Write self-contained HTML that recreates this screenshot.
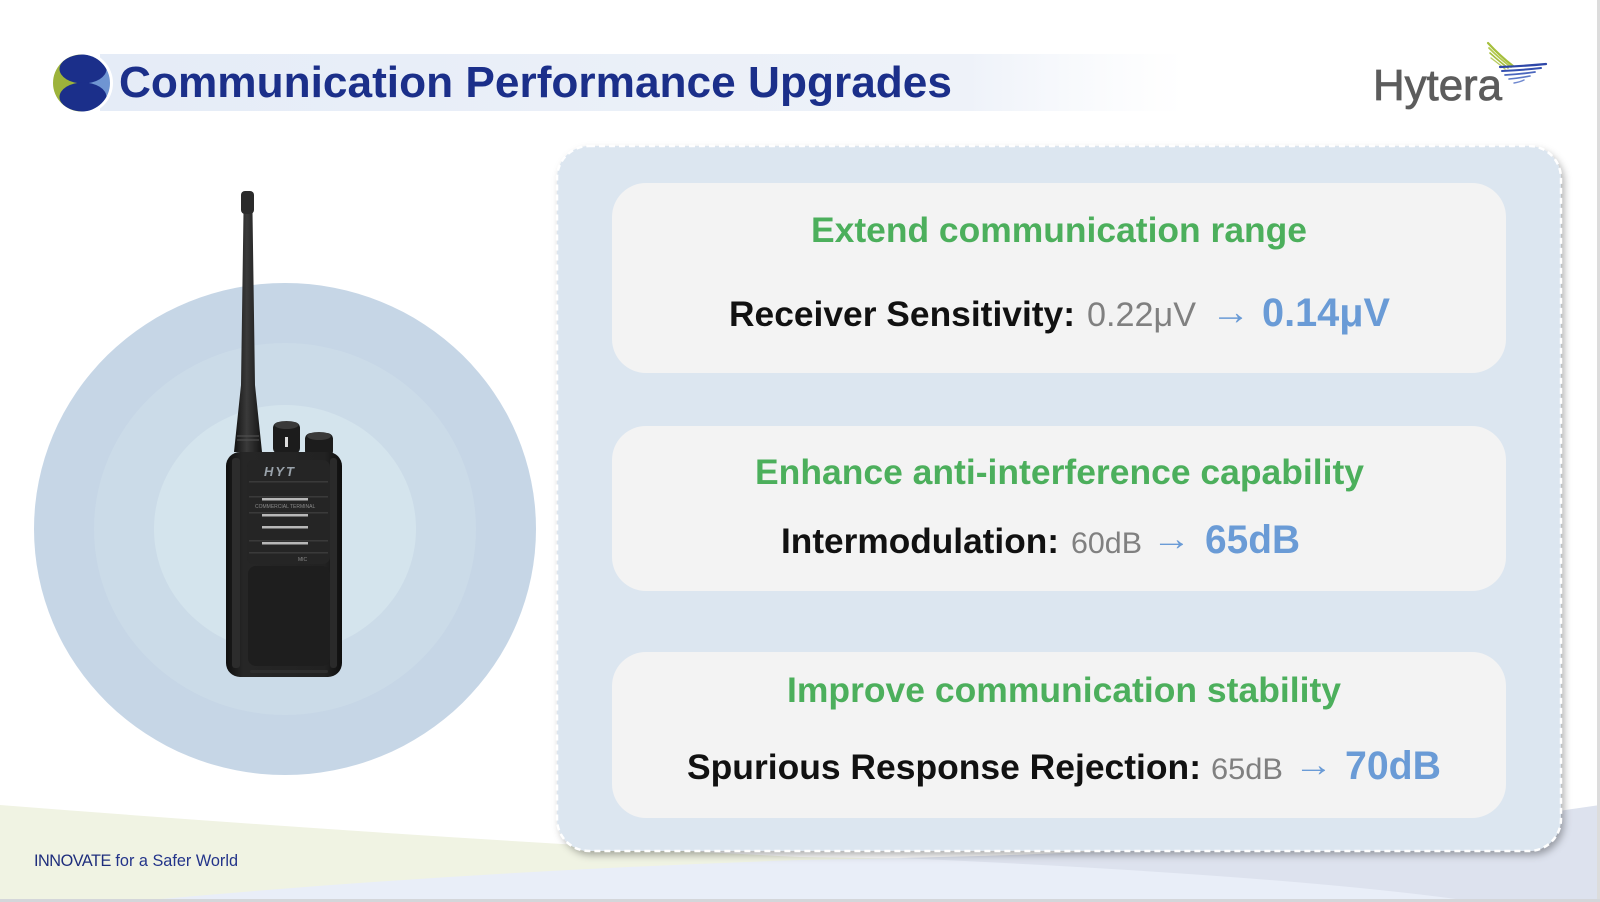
<!DOCTYPE html>
<html>
<head>
<meta charset="utf-8">
<style>
  html,body{margin:0;padding:0;background:#fff;}
  body{width:1600px;height:902px;overflow:hidden;}
  svg{display:block;}
  text{font-family:"Liberation Sans","DejaVu Sans",sans-serif;}
</style>
</head>
<body>
<svg width="1600" height="902" viewBox="0 0 1600 902" xmlns="http://www.w3.org/2000/svg">
  <defs>
    <linearGradient id="bar" x1="0" y1="0" x2="1" y2="0">
      <stop offset="0" stop-color="#e5ecf7"/>
      <stop offset="0.8" stop-color="#eef2f9"/>
      <stop offset="1" stop-color="#f4f7fb" stop-opacity="0"/>
    </linearGradient>
    <linearGradient id="lens" x1="0" y1="0" x2="1" y2="0">
      <stop offset="0" stop-color="#9db33b"/>
      <stop offset="0.5" stop-color="#9db33b"/>
      <stop offset="0.5" stop-color="#6f95d2"/>
      <stop offset="1" stop-color="#6f95d2"/>
    </linearGradient>
    <clipPath id="logoclip"><circle cx="81.5" cy="83" r="28.5"/></clipPath>
    <filter id="shadow" x="-5%" y="-5%" width="110%" height="110%">
      <feDropShadow dx="3" dy="4" stdDeviation="4" flood-color="#000" flood-opacity="0.32"/>
    </filter>
    <linearGradient id="ant" x1="0" y1="0" x2="1" y2="0">
      <stop offset="0" stop-color="#111"/>
      <stop offset="0.45" stop-color="#3a3a3a"/>
      <stop offset="1" stop-color="#141414"/>
    </linearGradient>
    <linearGradient id="body" x1="0" y1="0" x2="1" y2="0">
      <stop offset="0" stop-color="#0f0f0f"/>
      <stop offset="0.15" stop-color="#262626"/>
      <stop offset="0.85" stop-color="#222"/>
      <stop offset="1" stop-color="#0e0e0e"/>
    </linearGradient>
  </defs>

  <!-- bottom decorative waves -->
  <path d="M0,805 Q420,838 800,857 Q1100,862 1600,858 L1600,902 L0,902 Z" fill="#f0f3e3"/>
  <path d="M128,902 Q450,872 800,860 Q1200,852 1600,850 L1600,902 Z" fill="#e9eef8"/>
  <path d="M900,858 Q1300,850 1600,805 L1600,902 L1477,902 Q1300,876 900,858 Z" fill="#dde2ee"/>

  <!-- right / bottom frame lines -->
  <rect x="1597" y="0" width="3" height="902" fill="#dcdcdc"/>
  <rect x="0" y="899" width="1600" height="3" fill="#d4d6da"/>

  <!-- title bar -->
  <rect x="100" y="54" width="1085" height="57" fill="url(#bar)"/>
  <circle cx="81.5" cy="83" r="31.5" fill="#fff"/>
  <circle cx="81.5" cy="83" r="28.5" fill="url(#lens)"/>
  <g clip-path="url(#logoclip)" fill="#1b2f8a">
    <ellipse cx="83" cy="69" rx="23.5" ry="14.5"/>
    <ellipse cx="83" cy="97" rx="23.5" ry="14.5"/>
  </g>
  <text x="119" y="97" font-size="44" font-weight="bold" fill="#1b2f8a" textLength="833" lengthAdjust="spacingAndGlyphs">Communication Performance Upgrades</text>

  <!-- Hytera logo -->
  <text x="1373" y="100" font-size="44" fill="#5c5c5c" stroke="#5c5c5c" stroke-width="0.8" textLength="129" lengthAdjust="spacingAndGlyphs">Hytera</text>
  <g fill="none" stroke-linecap="round">
    <path d="M1488,43 Q1500,56 1513,66" stroke="#a5bf3c" stroke-width="2.2"/>
    <path d="M1489,48 Q1500,59 1511,67" stroke="#b3c94d" stroke-width="1.8"/>
    <path d="M1490,53 Q1500,62 1508,68" stroke="#a5bf3c" stroke-width="1.6"/>
    <path d="M1491,58 Q1499,64 1505,69" stroke="#b9cc60" stroke-width="1.4"/>
    <path d="M1500,67 Q1525,66 1546,64" stroke="#2e47a8" stroke-width="2.2"/>
    <path d="M1502,71 Q1524,70 1541,68" stroke="#3550b0" stroke-width="2"/>
    <path d="M1505,75 Q1522,74 1535,72" stroke="#4a66bd" stroke-width="1.8"/>
    <path d="M1509,79 Q1520,78 1530,76" stroke="#5d78c6" stroke-width="1.6"/>
    <path d="M1514,83 Q1520,82 1524,80" stroke="#7089cf" stroke-width="1.4"/>
  </g>

  <!-- concentric circles -->
  <ellipse cx="285" cy="529" rx="251" ry="246" fill="#c6d6e6"/>
  <ellipse cx="285" cy="529" rx="191" ry="186" fill="#cbdbe8"/>
  <ellipse cx="285" cy="529" rx="131" ry="124" fill="#d4e4ed"/>

  <!-- radio -->
  <g>
    <polygon points="243.5,212 252.5,212 255,385 262,452 234,452 241,385" fill="url(#ant)"/>
    <rect x="241" y="191" width="13" height="23" rx="4" fill="#2b2b2b"/>
    <line x1="237" y1="436" x2="259" y2="436" stroke="#555" stroke-width="1"/>
    <line x1="237" y1="440" x2="259" y2="440" stroke="#555" stroke-width="1"/>
    <!-- knobs -->
    <rect x="273" y="422" width="27" height="32" rx="6" fill="#1c1c1c"/>
    <ellipse cx="286.5" cy="425" rx="12" ry="4" fill="#3a3a3a"/>
    <rect x="285" y="437" width="3" height="10" fill="#ddd"/>
    <rect x="305" y="433" width="28" height="24" rx="6" fill="#1c1c1c"/>
    <ellipse cx="319" cy="436" rx="12" ry="4" fill="#3a3a3a"/>
    <!-- body -->
    <rect x="226" y="452" width="116" height="225" rx="14" fill="url(#body)"/>
    <rect x="232" y="458" width="8" height="210" rx="3" fill="#2c2c2c"/>
    <rect x="330" y="458" width="7" height="210" rx="3" fill="#2a2a2a"/>
    <rect x="247" y="460" width="83" height="104" rx="7" fill="#252525"/>
    <text x="264" y="476" font-size="13" font-weight="bold" font-style="italic" fill="#9aa3ab" letter-spacing="2">HYT</text>
    <rect x="249" y="481" width="79" height="1.5" fill="#3a3a3a"/>
    <rect x="249" y="496" width="79" height="1.5" fill="#3a3a3a"/>
    <rect x="262" y="498" width="46" height="2.5" fill="#b8b8b8"/>
    <text x="255" y="508" font-size="5" fill="#8a8a8a">COMMERCIAL TERMINAL</text>
    <rect x="249" y="512" width="79" height="1.5" fill="#3a3a3a"/>
    <rect x="262" y="514" width="46" height="2.5" fill="#b8b8b8"/>
    <rect x="262" y="526" width="46" height="2.5" fill="#b8b8b8"/>
    <rect x="249" y="540" width="79" height="1.5" fill="#3a3a3a"/>
    <rect x="262" y="542" width="46" height="2.5" fill="#b8b8b8"/>
    <rect x="249" y="552" width="79" height="1.5" fill="#3a3a3a"/>
    <text x="298" y="561" font-size="5" fill="#8a8a8a">MIC</text>
    <rect x="248" y="566" width="82" height="100" rx="8" fill="#1e1e1e"/>
    <rect x="250" y="670" width="78" height="3" rx="1.5" fill="#2e2e2e"/>
  </g>

  <!-- main panel -->
  <rect x="557" y="146" width="1004" height="705" rx="32" fill="#dce6f0" filter="url(#shadow)"/>
  <rect x="557" y="146" width="1004" height="705" rx="32" fill="none" stroke="#ffffff" stroke-width="2.5" stroke-dasharray="6 4"/>

  <!-- cards -->
  <rect x="612" y="183" width="894" height="190" rx="34" fill="#f3f3f3"/>
  <rect x="612" y="426" width="894" height="165" rx="34" fill="#f3f3f3"/>
  <rect x="612" y="652" width="894" height="166" rx="34" fill="#f3f3f3"/>

  <!-- card 1 -->
  <text x="811" y="242" font-size="35" font-weight="bold" fill="#4caf5c" textLength="496" lengthAdjust="spacingAndGlyphs">Extend communication range</text>
  <text x="729" y="326" font-size="35" font-weight="bold" fill="#111" textLength="346" lengthAdjust="spacingAndGlyphs">Receiver Sensitivity:</text>
  <text x="1087" y="326" font-size="34" fill="#808080" textLength="109" lengthAdjust="spacingAndGlyphs">0.22μV</text>
  <text x="1211" y="324" font-size="36" fill="#6a9bd6" textLength="39" lengthAdjust="spacingAndGlyphs">→</text>
  <text x="1262" y="326" font-size="40" font-weight="bold" fill="#6a9bd6" textLength="128" lengthAdjust="spacingAndGlyphs">0.14μV</text>

  <!-- card 2 -->
  <text x="755" y="484" font-size="35" font-weight="bold" fill="#4caf5c" textLength="609" lengthAdjust="spacingAndGlyphs">Enhance anti-interference capability</text>
  <text x="781" y="553" font-size="35" font-weight="bold" fill="#111" textLength="278" lengthAdjust="spacingAndGlyphs">Intermodulation:</text>
  <text x="1071" y="553" font-size="30" fill="#808080" textLength="71" lengthAdjust="spacingAndGlyphs">60dB</text>
  <text x="1152" y="550" font-size="34" fill="#6a9bd6" textLength="39" lengthAdjust="spacingAndGlyphs">→</text>
  <text x="1205" y="553" font-size="40" font-weight="bold" fill="#6a9bd6" textLength="95" lengthAdjust="spacingAndGlyphs">65dB</text>

  <!-- card 3 -->
  <text x="787" y="702" font-size="35" font-weight="bold" fill="#4caf5c" textLength="554" lengthAdjust="spacingAndGlyphs">Improve communication stability</text>
  <text x="687" y="779" font-size="35" font-weight="bold" fill="#111" textLength="514" lengthAdjust="spacingAndGlyphs">Spurious Response Rejection:</text>
  <text x="1211" y="779" font-size="30" fill="#808080" textLength="72" lengthAdjust="spacingAndGlyphs">65dB</text>
  <text x="1294" y="776" font-size="34" fill="#6a9bd6" textLength="39" lengthAdjust="spacingAndGlyphs">→</text>
  <text x="1345" y="779" font-size="40" font-weight="bold" fill="#6a9bd6" textLength="96" lengthAdjust="spacingAndGlyphs">70dB</text>

  <!-- footer slogan -->
  <text x="34" y="866" font-size="17" fill="#23348a" textLength="204" lengthAdjust="spacingAndGlyphs"><tspan fill="#1e2d7c" letter-spacing="-0.5">INNOVATE</tspan> for a Safer World</text>
</svg>
</body>
</html>
